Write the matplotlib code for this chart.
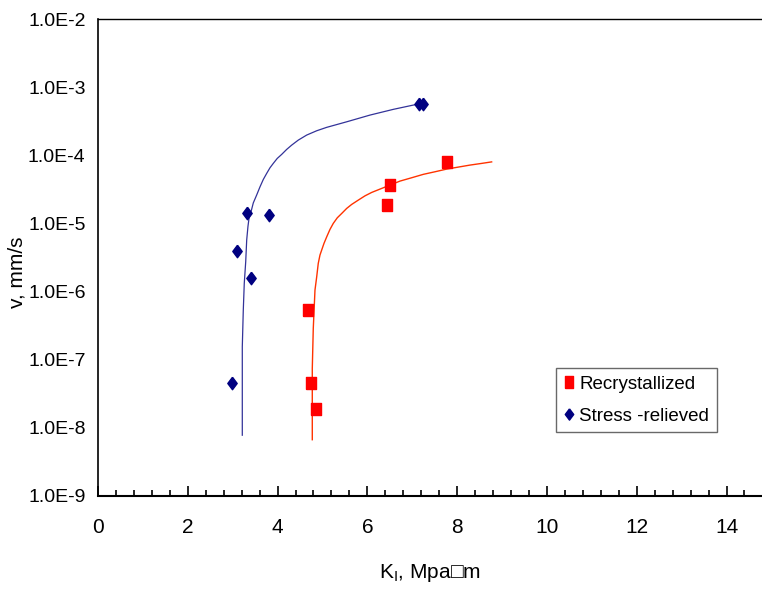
import matplotlib
matplotlib.use('Agg')
import matplotlib.pyplot as plt
from matplotlib.ticker import MultipleLocator, FixedLocator, NullLocator

plt.rcParams['font.family'] = ['Liberation Sans', 'DejaVu Sans']

# measured points
recryst_k = [7.77, 6.51, 6.44, 4.68, 4.75, 4.85]
recryst_v = [7.9e-5, 3.7e-5, 1.87e-5, 5.3e-7, 4.6e-8, 1.86e-8]
stress_k = [3.31, 3.82, 3.10, 3.41, 2.99, 7.16, 7.25]
stress_v = [1.43e-5, 1.32e-5, 3.9e-6, 1.56e-6, 4.5e-8, 5.6e-4, 5.6e-4]

# trend lines
recryst_fit_k = [4.773, 4.773, 4.795, 4.833, 4.871, 4.906, 4.944, 4.982, 5.033, 5.094,
                 5.167, 5.240, 5.330, 5.428, 5.539, 5.650, 5.798, 5.947, 6.096, 6.281,
                 6.503, 6.726, 6.986, 7.245, 7.506, 7.766, 8.025, 8.285, 8.545, 8.768]
recryst_fit_v = [6.7e-9, 7.4e-8, 2.87e-7, 1.05e-6, 1.64e-6, 2.59e-6, 3.43e-6, 4.06e-6, 5.08e-6, 6.35e-6,
                 8.17e-6, 1.0e-5, 1.21e-5, 1.40e-5, 1.66e-5, 1.90e-5, 2.2e-5, 2.54e-5, 2.85e-5, 3.19e-5,
                 3.65e-5, 4.18e-5, 4.68e-5, 5.25e-5, 5.73e-5, 6.27e-5, 6.71e-5, 7.18e-5, 7.6e-5, 8.0e-5]
stress_fit_k = [3.214, 3.214, 3.236, 3.258, 3.290, 3.312, 3.340, 3.363, 3.408, 3.459,
                3.534, 3.608, 3.682, 3.757, 3.831, 3.904, 3.993, 4.091, 4.203, 4.314,
                4.461, 4.648, 4.871, 5.094, 5.539, 6.058, 6.577, 7.098]
stress_fit_v = [7.8e-9, 1.54e-7, 5.3e-7, 1.32e-6, 2.73e-6, 5.7e-6, 9.0e-6, 1.18e-5, 1.48e-5, 2.0e-5,
                2.61e-5, 3.44e-5, 4.42e-5, 5.42e-5, 6.56e-5, 7.6e-5, 9.0e-5, 1.03e-4, 1.22e-4, 1.41e-4,
                1.67e-4, 1.98e-4, 2.29e-4, 2.57e-4, 3.1e-4, 3.89e-4, 4.72e-4, 5.59e-4]

y_exps = [-9, -8, -7, -6, -5, -4, -3, -2]

diamond = [(0, 1), (0.75, 0), (0, -1), (-0.75, 0), (0, 1)]
rect = [(-0.75, -1), (0.75, -1), (0.75, 1), (-0.75, 1), (-0.75, -1)]

fig = plt.figure(figsize=(7.62, 5.94), dpi=100)
ax = fig.add_axes([98 / 762, 1 - 496 / 594, 1 - 98 / 762, (496 - 19) / 594])

ax.plot(recryst_fit_k, recryst_fit_v, color='#ff3300', lw=1.0)
ax.plot(stress_fit_k, stress_fit_v, color='#333399', lw=0.9)
ax.plot(recryst_k, recryst_v, ls='none', marker=rect, ms=9, color='#ff0000',
        mec='#ff0000', label='Recrystallized')
ax.plot(stress_k, stress_v, ls='none', marker=diamond, ms=9, color='#000080',
        mec='#000080', label='Stress -relieved')

ax.set_yscale('log')
ax.set_ylim(1e-9, 1e-2)
ax.set_xlim(0, 14.79)
ax.yaxis.set_major_locator(FixedLocator([10.0 ** e for e in y_exps]))
ax.yaxis.set_minor_locator(NullLocator())
ax.set_yticklabels(['1.0E-%d' % (-e) for e in y_exps])
ax.tick_params(axis='y', length=0, pad=9, labelsize=14)

ax.xaxis.set_major_locator(MultipleLocator(2))
ax.xaxis.set_minor_locator(MultipleLocator(0.4))
ax.tick_params(axis='x', which='major', direction='in', length=7, width=1.2,
               pad=16, labelsize=15)
ax.tick_params(axis='x', which='minor', direction='in', length=4, width=1.2)

ax.spines['right'].set_visible(False)
ax.spines['left'].set_linewidth(1.2)
ax.spines['bottom'].set_linewidth(1.5)
ax.spines['top'].set_linewidth(1.0)

ax.set_ylabel('v, mm/s', fontsize=15)
ax.yaxis.set_label_coords(-0.108, 0.47)
ax.set_xlabel('K$_\\mathregular{I}$, Mpa\u25a1m', fontsize=15, labelpad=18)

leg = ax.legend(loc='upper left', bbox_to_anchor=(556 / 762, 1 - 368 / 594),
                bbox_transform=fig.transFigure, borderaxespad=0, fancybox=False,
                fontsize=13.5, handlelength=0.6, handletextpad=0.25, labelspacing=0.8,
                borderpad=0.4, markerscale=0.9)
leg.get_frame().set_edgecolor('#444444')
leg.get_frame().set_linewidth(1.0)

fig.savefig('out.png', dpi=100)
